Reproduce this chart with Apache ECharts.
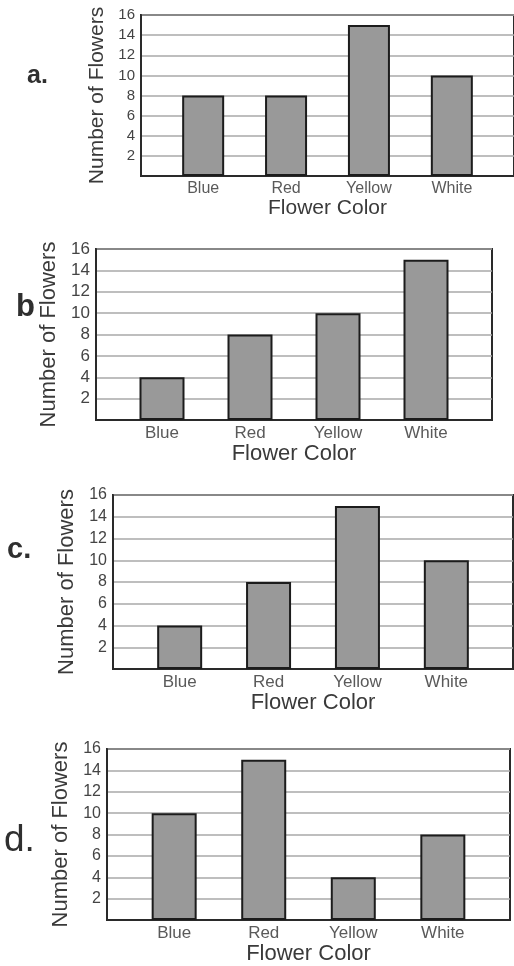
<!DOCTYPE html>
<html>
<head>
<meta charset="utf-8">
<script src="https://cdn.jsdelivr.net/npm/echarts@6/dist/echarts.min.js"></script>
<style>
html,body{margin:0;padding:0;background:#fff;}
#chart{width:514px;height:966px;}
</style>
</head>
<body>
<div id="chart"></div>
<script>
// ---- data ----
const categories = ['Blue', 'Red', 'Yellow', 'White'];
const valuesA = [8, 8, 15, 10];
const valuesB = [4, 8, 10, 15];
const valuesC = [4, 8, 15, 10];
const valuesD = [10, 15, 4, 8];
const panelLabels = ['a.', 'b', 'c.', 'd.'];
const yAxisTitle = 'Number of Flowers';
const xAxisTitle = 'Flower Color';
const yMin = 0, yMax = 16, yStep = 2;

// ---- layout / style (not data) ----
const FONT = '"Liberation Sans", Arial, Helvetica, sans-serif';
const panels = [
  {vals: valuesA, left: 141, top: 15,  width: 377, height: 161, bar: 42, tick: 15, cat: 16, name: 21, xGap: 21, yGap: 33,
   label: {x: 27, y: 64, size: 25, weight: 'bold'}},
  {vals: valuesB, left: 96,  top: 249, width: 396, height: 171, bar: 45, tick: 17, cat: 17, name: 22, xGap: 22, yGap: 34,
   label: {x: 16, y: 292, size: 31, weight: 'bold'}},
  {vals: valuesC, left: 113, top: 495, width: 400, height: 174, bar: 45, tick: 16, cat: 17, name: 22, xGap: 23, yGap: 34,
   label: {x: 7, y: 535, size: 29, weight: 'bold'}},
  {vals: valuesD, left: 107, top: 749, width: 403, height: 173, bar: 45, tick: 16, cat: 17, name: 22, xGap: 23, yGap: 35,
   label: {x: 4, y: 822, size: 37, weight: 'normal'}}
];

const grid = [], xAxis = [], yAxis = [], series = [], graphic = [];
panels.forEach((p, i) => {
  grid.push({
    left: p.left, top: p.top, width: p.width, height: p.height,
    show: true, borderColor: '#2a2a2a', borderWidth: 2, backgroundColor: '#fff',
    containLabel: false
  });
  xAxis.push({
    gridIndex: i, type: 'value', min: -0.75, max: 3.75,
    name: xAxisTitle, nameLocation: 'middle', nameGap: p.xGap,
    nameTextStyle: {fontFamily: FONT, fontSize: p.name, color: '#3a3a3a'},
    axisLine: {show: true, onZero: false, lineStyle: {color: '#2a2a2a', width: 2}},
    axisTick: {show: false},
    splitLine: {show: false},
    axisLabel: {
      customValues: [0, 1, 2, 3],
      formatter: v => categories[Math.round(v)] || '',
      fontFamily: FONT, fontSize: p.cat, color: '#5a5a5a', margin: 5
    }
  });
  yAxis.push({
    gridIndex: i, type: 'value', min: yMin, max: yMax, interval: yStep,
    name: yAxisTitle, nameLocation: 'middle', nameGap: p.yGap, nameRotate: 90,
    nameTextStyle: {fontFamily: FONT, fontSize: p.name, color: '#3a3a3a'},
    axisLine: {show: true, onZero: false, lineStyle: {color: '#2a2a2a', width: 2}},
    axisTick: {show: false},
    splitLine: {show: true, lineStyle: {color: '#a8a8a8', width: 1.5}},
    axisLabel: {
      formatter: v => (v === 0 ? '' : String(v)),
      fontFamily: FONT, fontSize: p.tick, color: '#444', margin: 6
    }
  });
  series.push({
    type: 'bar', xAxisIndex: i, yAxisIndex: i,
    barWidth: p.bar,
    data: p.vals.map((v, k) => [k, v]),
    itemStyle: {color: '#999999', borderColor: '#1c1c1c', borderWidth: 2},
    silent: true, animation: false
  });
  graphic.push({
    type: 'text', left: p.label.x, top: p.label.y,
    style: {
      text: panelLabels[i], fontFamily: FONT, fontSize: p.label.size,
      fontWeight: p.label.weight, fill: '#2f2f2f', verticalAlign: 'middle'
    }
  });
});

const chart = echarts.init(document.getElementById('chart'), null, {renderer: 'canvas'});
chart.setOption({
  animation: false,
  backgroundColor: '#fff',
  grid, xAxis, yAxis, series, graphic
});
</script>
</body>
</html>
